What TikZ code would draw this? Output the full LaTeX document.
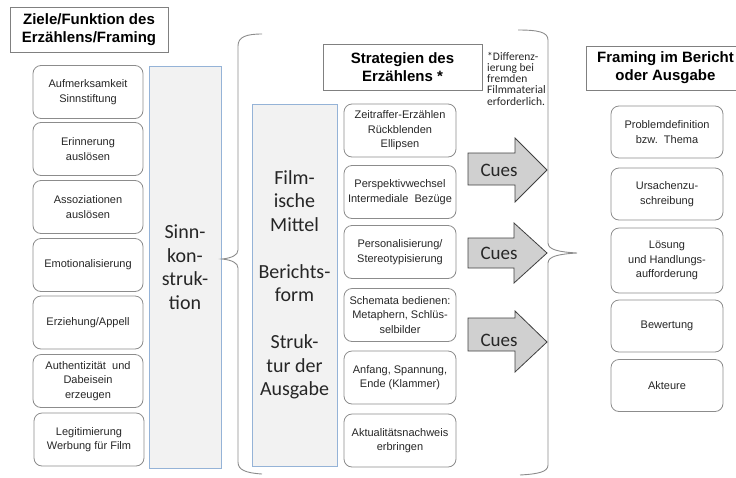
\documentclass[tikz,border=0pt]{standalone}
\usepackage{fontspec}
\setmainfont{Liberation Sans}
\newfontfamily\calib{Carlito}
\definecolor{boxgray}{HTML}{8C8C8C}
\definecolor{titlegray}{HTML}{808080}
\definecolor{textc}{HTML}{262626}
\definecolor{bluebd}{HTML}{95B3D7}
\definecolor{panel}{HTML}{F2F2F2}
\definecolor{arrowfill}{HTML}{D0D0D0}
\definecolor{arrowbd}{HTML}{404040}
\begin{document}
\begin{tikzpicture}[x=1pt,y=-1pt,
  box/.style={draw=boxgray, line width=0.8pt, rounded corners=8pt, align=center,
    font=\fontsize{11}{14.5}\selectfont, text=textc, inner sep=0pt},
  lbox/.style={box, minimum width=110pt, minimum height=53pt},
  mbox/.style={box, minimum width=112pt, minimum height=53pt},
  rbox/.style={box, minimum width=112pt, minimum height=52pt},
  titlebox/.style={draw=titlegray, line width=0.8pt, align=center,
    font=\bfseries\fontsize{15}{18}\selectfont, inner sep=0pt},
  panelbox/.style={draw=bluebd, fill=panel, line width=0.9pt, align=center,
    font=\calib\fontsize{20}{23.5}\selectfont, text=textc, inner sep=0pt},
  bracesty/.style={draw=boxgray, line width=0.9pt},
  arrowsty/.style={draw=arrowbd, fill=arrowfill, line width=0.8pt, line join=miter},
  cues/.style={font=\calib\fontsize{19}{22}\selectfont, text=textc, inner sep=0pt},
  foot/.style={font=\calib\fontsize{11.5}{11.2}\selectfont, text=textc, align=left, inner sep=0pt}
]
\useasboundingbox (0,0) rectangle (736,477);

% titles
\node[titlebox, minimum width=158pt, minimum height=45pt] (t1) at (89,29.5) {Ziele/Funktion des\\Erzählens/Framing};
\node[titlebox, minimum width=159pt, minimum height=46pt] (t2) at (402.5,67) {Strategien des\\Erzählens *};
\node[titlebox, minimum width=159pt, minimum height=44pt] (t3) at (665.5,68) {Framing im Bericht\\oder Ausgabe};

% footnote
\node[foot, anchor=north west] (fn) at (487,52) {*Differenz-\\ierung bei\\fremden\\Filmmaterial\\erforderlich.};

% left column
\node[lbox] (l1) at (88,92) {Aufmerksamkeit\\Sinnstiftung};
\node[lbox] (l2) at (88,149) {Erinnerung\\auslösen};
\node[lbox] (l3) at (88,207) {Assoziationen\\auslösen};
\node[lbox] (l4) at (88,265) {Emotionalisierung};
\node[lbox] (l5) at (88,322.5) {Erziehung/Appell};
\node[lbox] (l6) at (88,381) {Authentizität\ \ und\\Dabeisein\\erzeugen};
\node[lbox] (l7) at (89,439.5) {Legitimierung\\Werbung für Film};

% panels
\node[panelbox, minimum width=72pt, minimum height=402pt] (sinn) at (185,267) {Sinn-\\kon-\\struk-\\tion};
\node[panelbox, minimum width=85pt, minimum height=362pt] (film) at (294.5,285)
  {Film-\\ische\\Mittel\\[23.5pt]Berichts-\\form\\[23.5pt]Struk-\\tur der\\Ausgabe};

% middle column
\node[mbox] (m1) at (400,130.5) {Zeitraffer-Erzählen\\Rückblenden\\Ellipsen};
\node[mbox] (m2) at (400,192) {Perspektivwechsel\\Intermediale\ \ Bezüge};
\node[mbox] (m3) at (400,252) {Personalisierung/\\Stereotypisierung};
\node[mbox] (m4) at (400,315) {Schemata bedienen:\\Metaphern, Schlüs-\\selbilder};
\node[mbox] (m5) at (400,377.5) {Anfang, Spannung,\\Ende (Klammer)};
\node[mbox] (m6) at (400,440.5) {Aktualitätsnachweis\\erbringen};

% right column
\node[rbox] (r1) at (667,132) {Problemdefinition\\bzw.\ \ Thema};
\node[rbox] (r2) at (667,194) {Ursachenzu-\\schreibung};
\node[rbox, minimum height=65pt] (r3) at (667,260.5) {Lösung\\und Handlungs-\\aufforderung};
\node[rbox] (r4) at (667,326) {Bewertung};
\node[rbox] (r5) at (667,385.5) {Akteure};

% braces
\draw[bracesty] (262,34) .. controls (246,34) and (238,37) .. (238,46) -- (238,250)
  .. controls (238,255) and (232,258) .. (222,259)
  .. controls (232,260) and (238,263) .. (238,268) -- (238,462)
  .. controls (238,470) and (246,473) .. (262,474);
\draw[bracesty] (518,30) .. controls (538,30) and (548,32) .. (548,40) -- (548,243)
  .. controls (548,250) and (560,252) .. (577,253)
  .. controls (560,254) and (548,256) .. (548,263) -- (548,465)
  .. controls (548,472) and (538,474) .. (520,475);

% cue arrows
\draw[arrowsty] (468,153) -- (515,153) -- (515,138) -- (547,170) -- (515,202) -- (515,185) -- (468,185) -- cycle;
\node[cues] (c1) at (499,170) {Cues};
\draw[arrowsty] (468,238) -- (514,238) -- (514,223) -- (547,253) -- (514,283) -- (514,268) -- (468,268) -- cycle;
\node[cues] (c2) at (499,253) {Cues};
\draw[arrowsty] (468,318) -- (515,318) -- (515,311) -- (547,342) -- (515,372) -- (515,351) -- (468,351) -- cycle;
\node[cues] (c3) at (499,340) {Cues};
\end{tikzpicture}
\end{document}
